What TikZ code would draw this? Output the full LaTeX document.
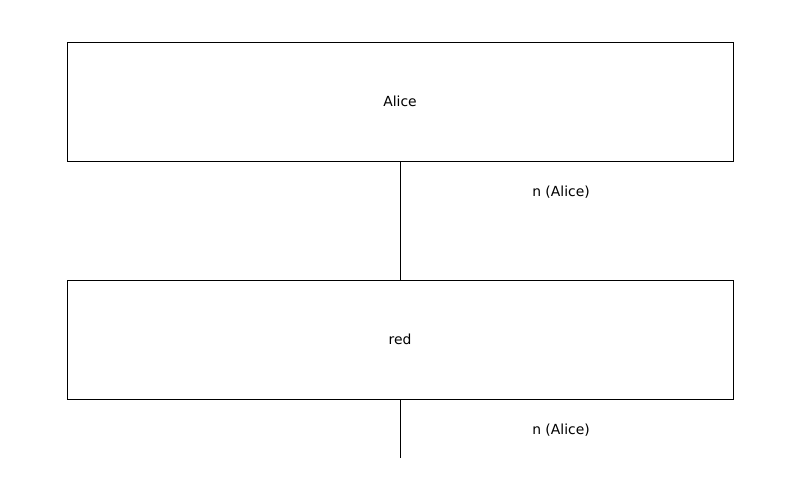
\documentclass[tikz,border=0pt]{standalone}
\usepackage{fontspec}
\setmainfont{DejaVu Sans}
\usetikzlibrary{positioning}
\tikzset{
	entitybox/.style={draw, line width=0.9pt, minimum width=666pt, minimum height=119pt, inner sep=0pt, font=\fontsize{13.9}{16}\selectfont},
	reltext/.style={font=\fontsize{13.9}{16}\selectfont, inner sep=0pt}
}
\begin{document}
\begin{tikzpicture}[x=1pt, y=1pt]
			%%%%% START %%%%%
			
			\useasboundingbox (0, 0) rectangle (800, -500);
			
			\node[entitybox] (alice) at (400, -101.5) {Alice};
			\node[entitybox] (red) at (400, -339.5) {red};
			
			\coordinate (tail) at (400, -458);
			
			\draw[line width=0.9pt] (alice.south) -- (red.north);
			\draw[line width=0.9pt] (red.south) -- (tail);
			
			\node[reltext] (relone) at (561, -192.5) {n (Alice)};
			\node[reltext] (reltwo) at (561, -430.5) {n (Alice)};
			
			%%%%% END %%%%%
\end{tikzpicture}
\end{document}
